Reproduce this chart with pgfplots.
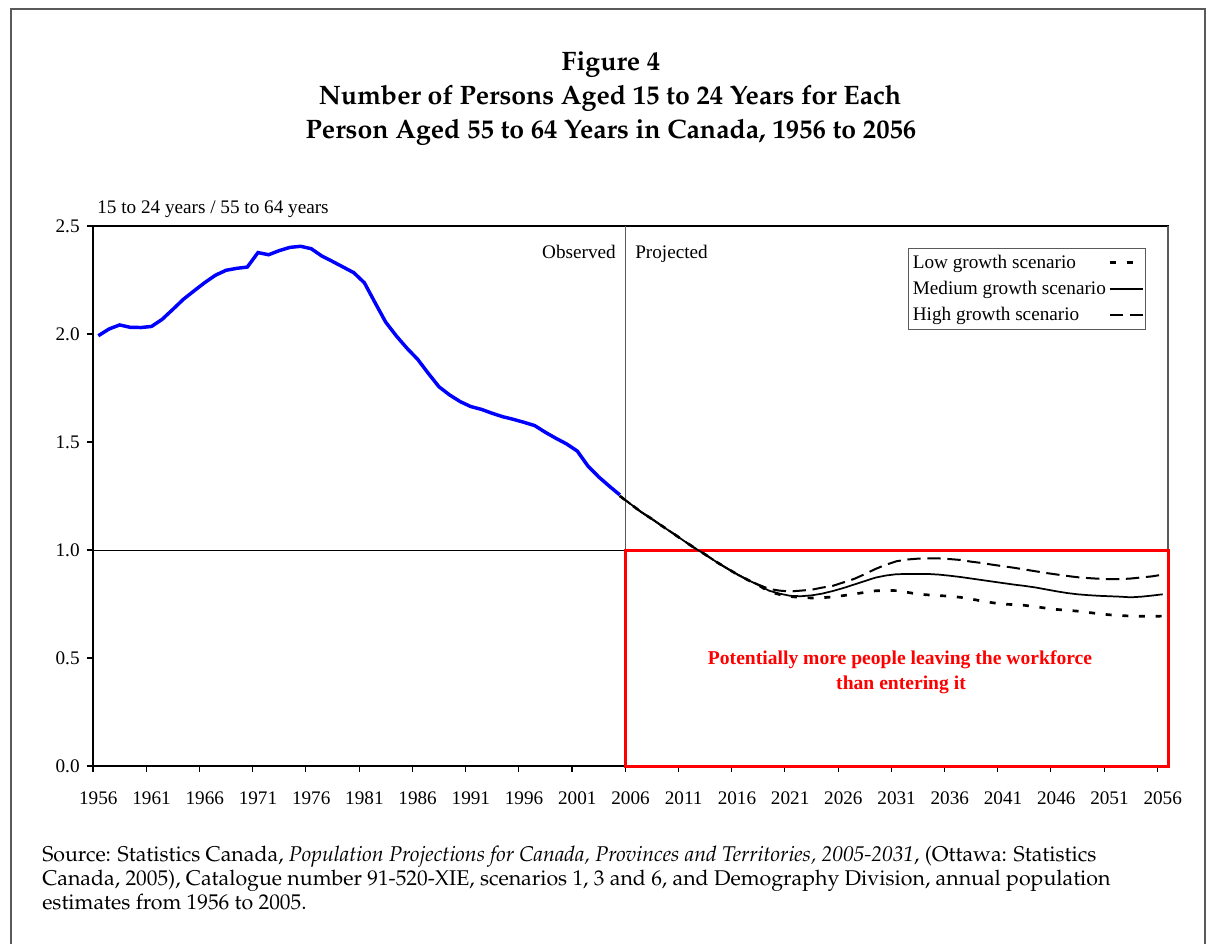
\documentclass[border=0pt]{standalone}
\usepackage[T1]{fontenc}
\usepackage{fontspec}
\setmainfont{Liberation Serif}
\usepackage{pgfplots}
\pgfplotsset{compat=1.18}
\newcommand\palfont{\fontencoding{T1}\fontfamily{ppl}\selectfont}
\newcommand\axfont{\fontsize{14.4}{17}\selectfont}
\definecolor{pureblue}{RGB}{0,0,255}
\definecolor{purered}{RGB}{255,0,0}
\definecolor{framegray}{RGB}{90,90,90}

\pgfplotstableread{
year val
1956 1.992
1957 2.023
1958 2.042
1959 2.031
1960 2.030
1961 2.035
1962 2.068
1963 2.114
1964 2.161
1965 2.200
1966 2.238
1967 2.272
1968 2.295
1969 2.304
1970 2.310
1971 2.377
1972 2.367
1973 2.386
1974 2.401
1975 2.406
1976 2.395
1977 2.361
1978 2.336
1979 2.310
1980 2.284
1981 2.237
1982 2.145
1983 2.055
1984 1.991
1985 1.934
1986 1.883
1987 1.818
1988 1.756
1989 1.718
1990 1.687
1991 1.664
1992 1.651
1993 1.633
1994 1.617
1995 1.605
1996 1.591
1997 1.576
1998 1.545
1999 1.517
2000 1.491
2001 1.458
2002 1.389
2003 1.339
2004 1.296
2005 1.255
}\observed

\pgfplotstableread{
year low medium high
2005 1.250 1.250 1.250
2006 1.213 1.213 1.213
2007 1.176 1.176 1.176
2008 1.144 1.144 1.144
2009 1.110 1.110 1.110
2010 1.077 1.077 1.077
2011 1.043 1.043 1.043
2012 1.010 1.010 1.010
2013 0.980 0.980 0.980
2014 0.947 0.947 0.947
2015 0.917 0.917 0.917
2016 0.888 0.888 0.888
2017 0.862 0.862 0.862
2018 0.838 0.838 0.840
2019 0.808 0.812 0.820
2020 0.794 0.798 0.812
2021 0.785 0.788 0.808
2022 0.780 0.786 0.812
2023 0.778 0.790 0.816
2024 0.779 0.798 0.826
2025 0.783 0.810 0.834
2026 0.789 0.824 0.850
2027 0.796 0.840 0.866
2028 0.804 0.856 0.888
2029 0.811 0.872 0.912
2030 0.813 0.882 0.932
2031 0.812 0.888 0.948
2032 0.804 0.889 0.956
2033 0.796 0.889 0.960
2034 0.792 0.889 0.961
2035 0.789 0.886 0.961
2036 0.786 0.881 0.958
2037 0.781 0.875 0.954
2038 0.773 0.868 0.946
2039 0.764 0.861 0.940
2040 0.756 0.854 0.932
2041 0.750 0.847 0.925
2042 0.747 0.840 0.918
2043 0.744 0.834 0.910
2044 0.738 0.827 0.902
2045 0.731 0.818 0.894
2046 0.725 0.809 0.887
2047 0.721 0.801 0.880
2048 0.717 0.795 0.874
2049 0.711 0.791 0.870
2050 0.705 0.788 0.867
2051 0.700 0.786 0.865
2052 0.697 0.784 0.865
2053 0.694 0.781 0.868
2054 0.693 0.784 0.873
2055 0.693 0.789 0.878
2056 0.694 0.795 0.886
}\projected

\begin{document}
\begin{tikzpicture}[x=0.75pt,y=-0.75pt]
\useasboundingbox (0,0) rectangle (1212,943);
% outer frame (open at bottom)
\draw[framegray, line width=1.3pt] (11,950) -- (11,9) -- (1205,9) -- (1205,950);

% titles
\node[inner sep=0pt, anchor=base, font=\palfont\bfseries\fontsize{20}{24}\selectfont] at (611,70) {Figure 4};
\node[inner sep=0pt, anchor=base, font=\palfont\bfseries\fontsize{20}{24}\selectfont] at (610,104) {Number of Persons Aged 15 to 24 Years for Each};
\node[inner sep=0pt, anchor=base, font=\palfont\bfseries\fontsize{20}{24}\selectfont] at (611,138) {Person Aged 55 to 64 Years in Canada, 1956 to 2056};

\begin{axis}[
  at={(69.75pt,-574.5pt)}, anchor=south west,
  width=806.25pt, height=405pt, scale only axis,
  xmin=1955.5, xmax=2056.5, ymin=0, ymax=2.5,
  clip=false,
  xtick={1955.5,1960.5,1965.5,1970.5,1975.5,1980.5,1985.5,1990.5,1995.5,2000.5,2005.5,2010.5,2015.5,2020.5,2025.5,2030.5,2035.5,2040.5,2045.5,2050.5,2055.5},
  xticklabels={1956,1961,1966,1971,1976,1981,1986,1991,1996,2001,2006,2011,2016,2021,2026,2031,2036,2041,2046,2051,2056},
  xticklabel style={xshift=4pt, yshift=-11.5pt},
  ytick={0,0.5,1,1.5,2,2.5},
  yticklabels={0.0,0.5,1.0,1.5,2.0,2.5},
  yticklabel style={xshift=-2pt},
  tick align=outside, tick pos=left, major tick length=4.5pt,
  tick style={black, line width=0.8pt},
  axis line style={black, line width=1pt},
  ticklabel style={font=\axfont},
  legend style={at={(0.7585,0.9595)}, anchor=north west, draw=framegray, line width=0.7pt,
    font=\axfont, inner xsep=1pt, inner ysep=3pt, row sep=4.2pt,
    cells={anchor=west}},
  legend plot pos=right,
  legend cell align=left,
  legend image code/.code={\draw[#1] (0pt,0pt) -- (25pt,0pt);},
]
% reference lines
\draw[black, line width=0.6pt] (axis cs:1955.5,1) -- (axis cs:2005.5,1);
\draw[framegray, line width=0.6pt] (axis cs:2005.5,0) -- (axis cs:2005.5,2.5);
\draw[framegray, line width=1pt] (axis cs:2056.5,0) -- (axis cs:2056.5,2.5);
% red box
\draw[purered, line width=2.25pt] (axis cs:2005.5,0) rectangle (axis cs:2056.5,1);

\addplot[pureblue, line width=2.6pt, forget plot] table[x=year, y=val] {\observed};
\addplot[black, line width=2pt, dash pattern=on 4.5pt off 8pt] table[x=year, y=low] {\projected};
\addlegendentry{Low growth scenario}
\addplot[black, line width=1.3pt] table[x=year, y=medium] {\projected};
\addlegendentry{Medium growth scenario}
\addplot[black, line width=1.5pt, dash pattern=on 10pt off 5pt] table[x=year, y=high] {\projected};
\addlegendentry{High growth scenario}
\end{axis}

% text annotations
\node[inner sep=0pt, anchor=base west, font=\axfont] at (97,213) {15 to 24 years / 55 to 64 years};
\node[inner sep=0pt, anchor=base east, font=\axfont] at (616,258) {Observed};
\node[inner sep=0pt, anchor=base west, font=\axfont] at (635,258) {Projected};
\node[inner sep=0pt, anchor=base, text=purered, font=\bfseries\fontsize{14.7}{17}\selectfont] at (900,664) {Potentially more people leaving the workforce};
\node[inner sep=0pt, anchor=base, text=purered, font=\bfseries\fontsize{14.7}{17}\selectfont] at (901,689) {than entering it};

% source
\node[inner sep=0pt, anchor=base west, font=\palfont\fontsize{16}{18}\selectfont] at (42,861) {Source: Statistics Canada, \textit{Population Projections for Canada, Provinces and Territories, 2005-2031}, (Ottawa: Statistics};
\node[inner sep=0pt, anchor=base west, font=\palfont\fontsize{16}{18}\selectfont] at (42,885) {Canada, 2005), Catalogue number 91-520-XIE, scenarios 1, 3 and 6, and Demography Division, annual population};
\node[inner sep=0pt, anchor=base west, font=\palfont\fontsize{16}{18}\selectfont] at (42,909) {estimates from 1956 to 2005.};
\end{tikzpicture}
\end{document}
